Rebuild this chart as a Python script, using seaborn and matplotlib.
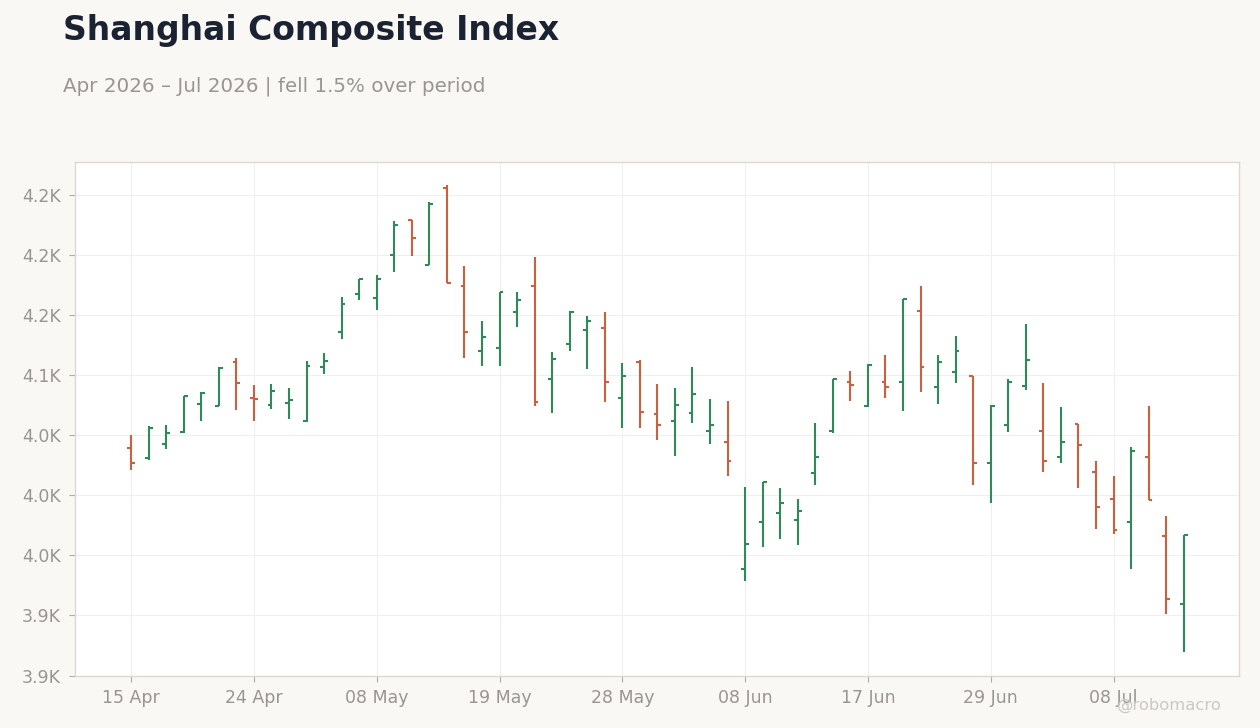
import matplotlib
matplotlib.use("Agg")
import matplotlib.pyplot as plt
import seaborn as sns
import pandas as pd
from matplotlib.ticker import MultipleLocator, FuncFormatter

# -------------------------------
# Data
# -------------------------------
dates = [
    "15 Apr", "16 Apr", "17 Apr", "20 Apr", "21 Apr", "22 Apr", "23 Apr", "24 Apr",
    "27 Apr", "28 Apr", "29 Apr", "30 Apr", "06 May", "07 May", "08 May", "11 May",
    "12 May", "13 May", "14 May", "15 May", "18 May", "19 May", "20 May", "21 May",
    "22 May", "25 May", "26 May", "27 May", "28 May", "29 May", "01 Jun", "02 Jun",
    "03 Jun", "04 Jun", "05 Jun", "08 Jun", "09 Jun", "10 Jun", "11 Jun", "12 Jun",
    "15 Jun", "16 Jun", "17 Jun", "18 Jun", "22 Jun", "23 Jun", "24 Jun", "25 Jun",
    "26 Jun", "29 Jun", "30 Jun", "01 Jul", "02 Jul", "03 Jul", "06 Jul", "07 Jul",
    "08 Jul", "09 Jul", "10 Jul", "13 Jul", "14 Jul",
]
opens = [
    4039.8, 4030.7, 4043.0, 4053.0, 4075.7, 4074.6, 4110.7, 4080.7, 4074.8, 4076.5,
    4061.5, 4107.0, 4135.7, 4168.0, 4164.0, 4200.4, 4229.0, 4192.0, 4255.7, 4174.0,
    4119.8, 4123.0, 4152.3, 4174.0, 4096.5, 4126.2, 4137.3, 4139.0, 4080.7, 4110.7,
    4067.3, 4061.5, 4068.2, 4053.7, 4044.8, 3939.0, 3978.2, 3985.7, 3979.8, 4018.2,
    4053.7, 4094.0, 4074.0, 4094.0, 4094.0, 4153.2, 4089.8, 4103.0, 4099.0, 4026.5,
    4058.2, 4090.7, 4053.7, 4031.5, 4059.3, 4019.8, 3997.3, 3978.2, 4031.5, 3966.5,
    3909.8,
]
highs = [
    4050.4, 4058.0, 4058.7, 4083.0, 4086.0, 4106.5, 4114.6, 4091.8, 4093.0, 4089.3,
    4112.0, 4118.7, 4165.4, 4180.0, 4183.0, 4228.7, 4229.6, 4244.6, 4258.0, 4191.0,
    4145.4, 4169.3, 4169.6, 4198.7, 4119.3, 4153.7, 4149.6, 4152.9, 4110.4, 4113.0,
    4093.0, 4089.6, 4107.0, 4080.4, 4078.7, 4007.0, 4011.2, 4006.0, 3997.0, 4060.4,
    4096.8, 4103.7, 4109.3, 4117.0, 4163.5, 4174.6, 4117.0, 4133.0, 4099.0, 4075.2,
    4097.0, 4143.0, 4093.5, 4073.7, 4059.3, 4028.7, 4016.2, 4040.4, 4074.6, 3982.9,
    3967.3,
]
lows = [
    4021.2, 4029.0, 4038.7, 4051.5, 4062.0, 4074.6, 4070.7, 4061.5, 4071.8, 4063.5,
    4061.0, 4100.7, 4129.8, 4163.0, 4154.0, 4185.7, 4199.0, 4192.0, 4177.0, 4114.0,
    4108.0, 4108.0, 4139.8, 4074.3, 4068.2, 4119.8, 4104.8, 4077.3, 4055.7, 4055.7,
    4045.7, 4033.0, 4059.8, 4043.0, 4015.7, 3928.7, 3956.8, 3964.0, 3959.0, 4008.2,
    4051.5, 4078.2, 4073.7, 4080.7, 4069.8, 4085.7, 4075.7, 4093.2, 4008.2, 3993.2,
    4052.3, 4087.3, 4019.8, 4027.3, 4005.7, 3972.3, 3968.2, 3939.0, 3996.5, 3901.5,
    3869.8,
]
closes = [
    4027.0, 4055.7, 4051.5, 4082.3, 4084.8, 4106.0, 4093.2, 4079.8, 4086.5, 4079.0,
    4107.3, 4112.0, 4159.6, 4179.8, 4179.8, 4224.8, 4214.0, 4242.3, 4177.0, 4135.7,
    4131.5, 4169.0, 4162.3, 4077.3, 4113.2, 4152.3, 4144.8, 4094.0, 4099.0, 4069.0,
    4058.2, 4074.8, 4084.0, 4058.2, 4028.2, 3959.8, 4010.7, 3993.2, 3987.3, 4031.5,
    4096.5, 4091.5, 4108.2, 4090.4, 4163.2, 4106.5, 4110.7, 4119.8, 4027.3, 4074.0,
    4094.0, 4112.3, 4028.7, 4044.0, 4041.5, 3990.4, 3971.5, 4036.5, 3996.5, 3914.0,
    3967.3,
]

df = pd.DataFrame({"date": dates, "open": opens, "high": highs,
                   "low": lows, "close": closes})
df["x"] = range(len(df))
df["up"] = df["close"] >= df["open"]

# -------------------------------
# Style
# -------------------------------
BG = "#f9f8f5"
UP = "#2e8b57"
DOWN = "#c9603f"
GRAY = "#9a9590"

sns.set_theme(style="whitegrid")
plt.rcParams["font.family"] = ["DejaVu Sans"]

fig = plt.figure(figsize=(12.6, 7.28), dpi=100, facecolor=BG)
ax = fig.add_axes([0.0595, 0.0721, 0.9238, 0.7054])
ax.set_facecolor("white")

# -------------------------------
# OHLC bars
# -------------------------------
tick_w = 0.22
colors = [UP if u else DOWN for u in df["up"]]
ax.vlines(df["x"], df["low"], df["high"], colors=colors, linewidth=1.5)
ax.hlines(df["open"], df["x"] - tick_w, df["x"], colors=colors, linewidth=1.5)
ax.hlines(df["close"], df["x"], df["x"] + tick_w, colors=colors, linewidth=1.5)

# -------------------------------
# Axes
# -------------------------------
ax.set_xlim(-3.2, 63.15)
ax.set_ylim(3850, 4277.5)

tick_pos = list(range(0, len(df), 7))
ax.set_xticks(tick_pos)
ax.set_xticklabels([dates[i] for i in tick_pos])
ax.yaxis.set_major_locator(MultipleLocator(50))
ax.yaxis.set_major_formatter(FuncFormatter(lambda v, p: f"{v/1000:.1f}K"))

ax.grid(True, color="#efefef", linewidth=0.8)
ax.set_axisbelow(True)
for s in ax.spines.values():
    s.set_color("#ddd8d0")
    s.set_linewidth(1.0)

ax.tick_params(axis="both", which="major", length=4, width=0.8, color="#b0aba5",
               labelcolor=GRAY, labelsize=12.5, pad=6, bottom=True, left=True)
ax.set_xlabel("")
ax.set_ylabel("")

# -------------------------------
# Titles and watermark
# -------------------------------
fig.text(0.05, 1 - 40 / 728, "Shanghai Composite Index", fontsize=23.8,
         fontweight="bold", color="#1b2332", va="baseline", ha="left")
fig.text(0.05, 1 - 92 / 728, "Apr 2026 \u2013 Jul 2026 | fell 1.5% over period",
         fontsize=14.3, color=GRAY, va="baseline", ha="left")
fig.text(1222 / 1260, 1 - 710 / 728, "@robomacro", fontsize=11.8,
         color="#cdc9c3", ha="right", va="baseline")

fig.savefig("out.png", dpi=100, facecolor=BG)
